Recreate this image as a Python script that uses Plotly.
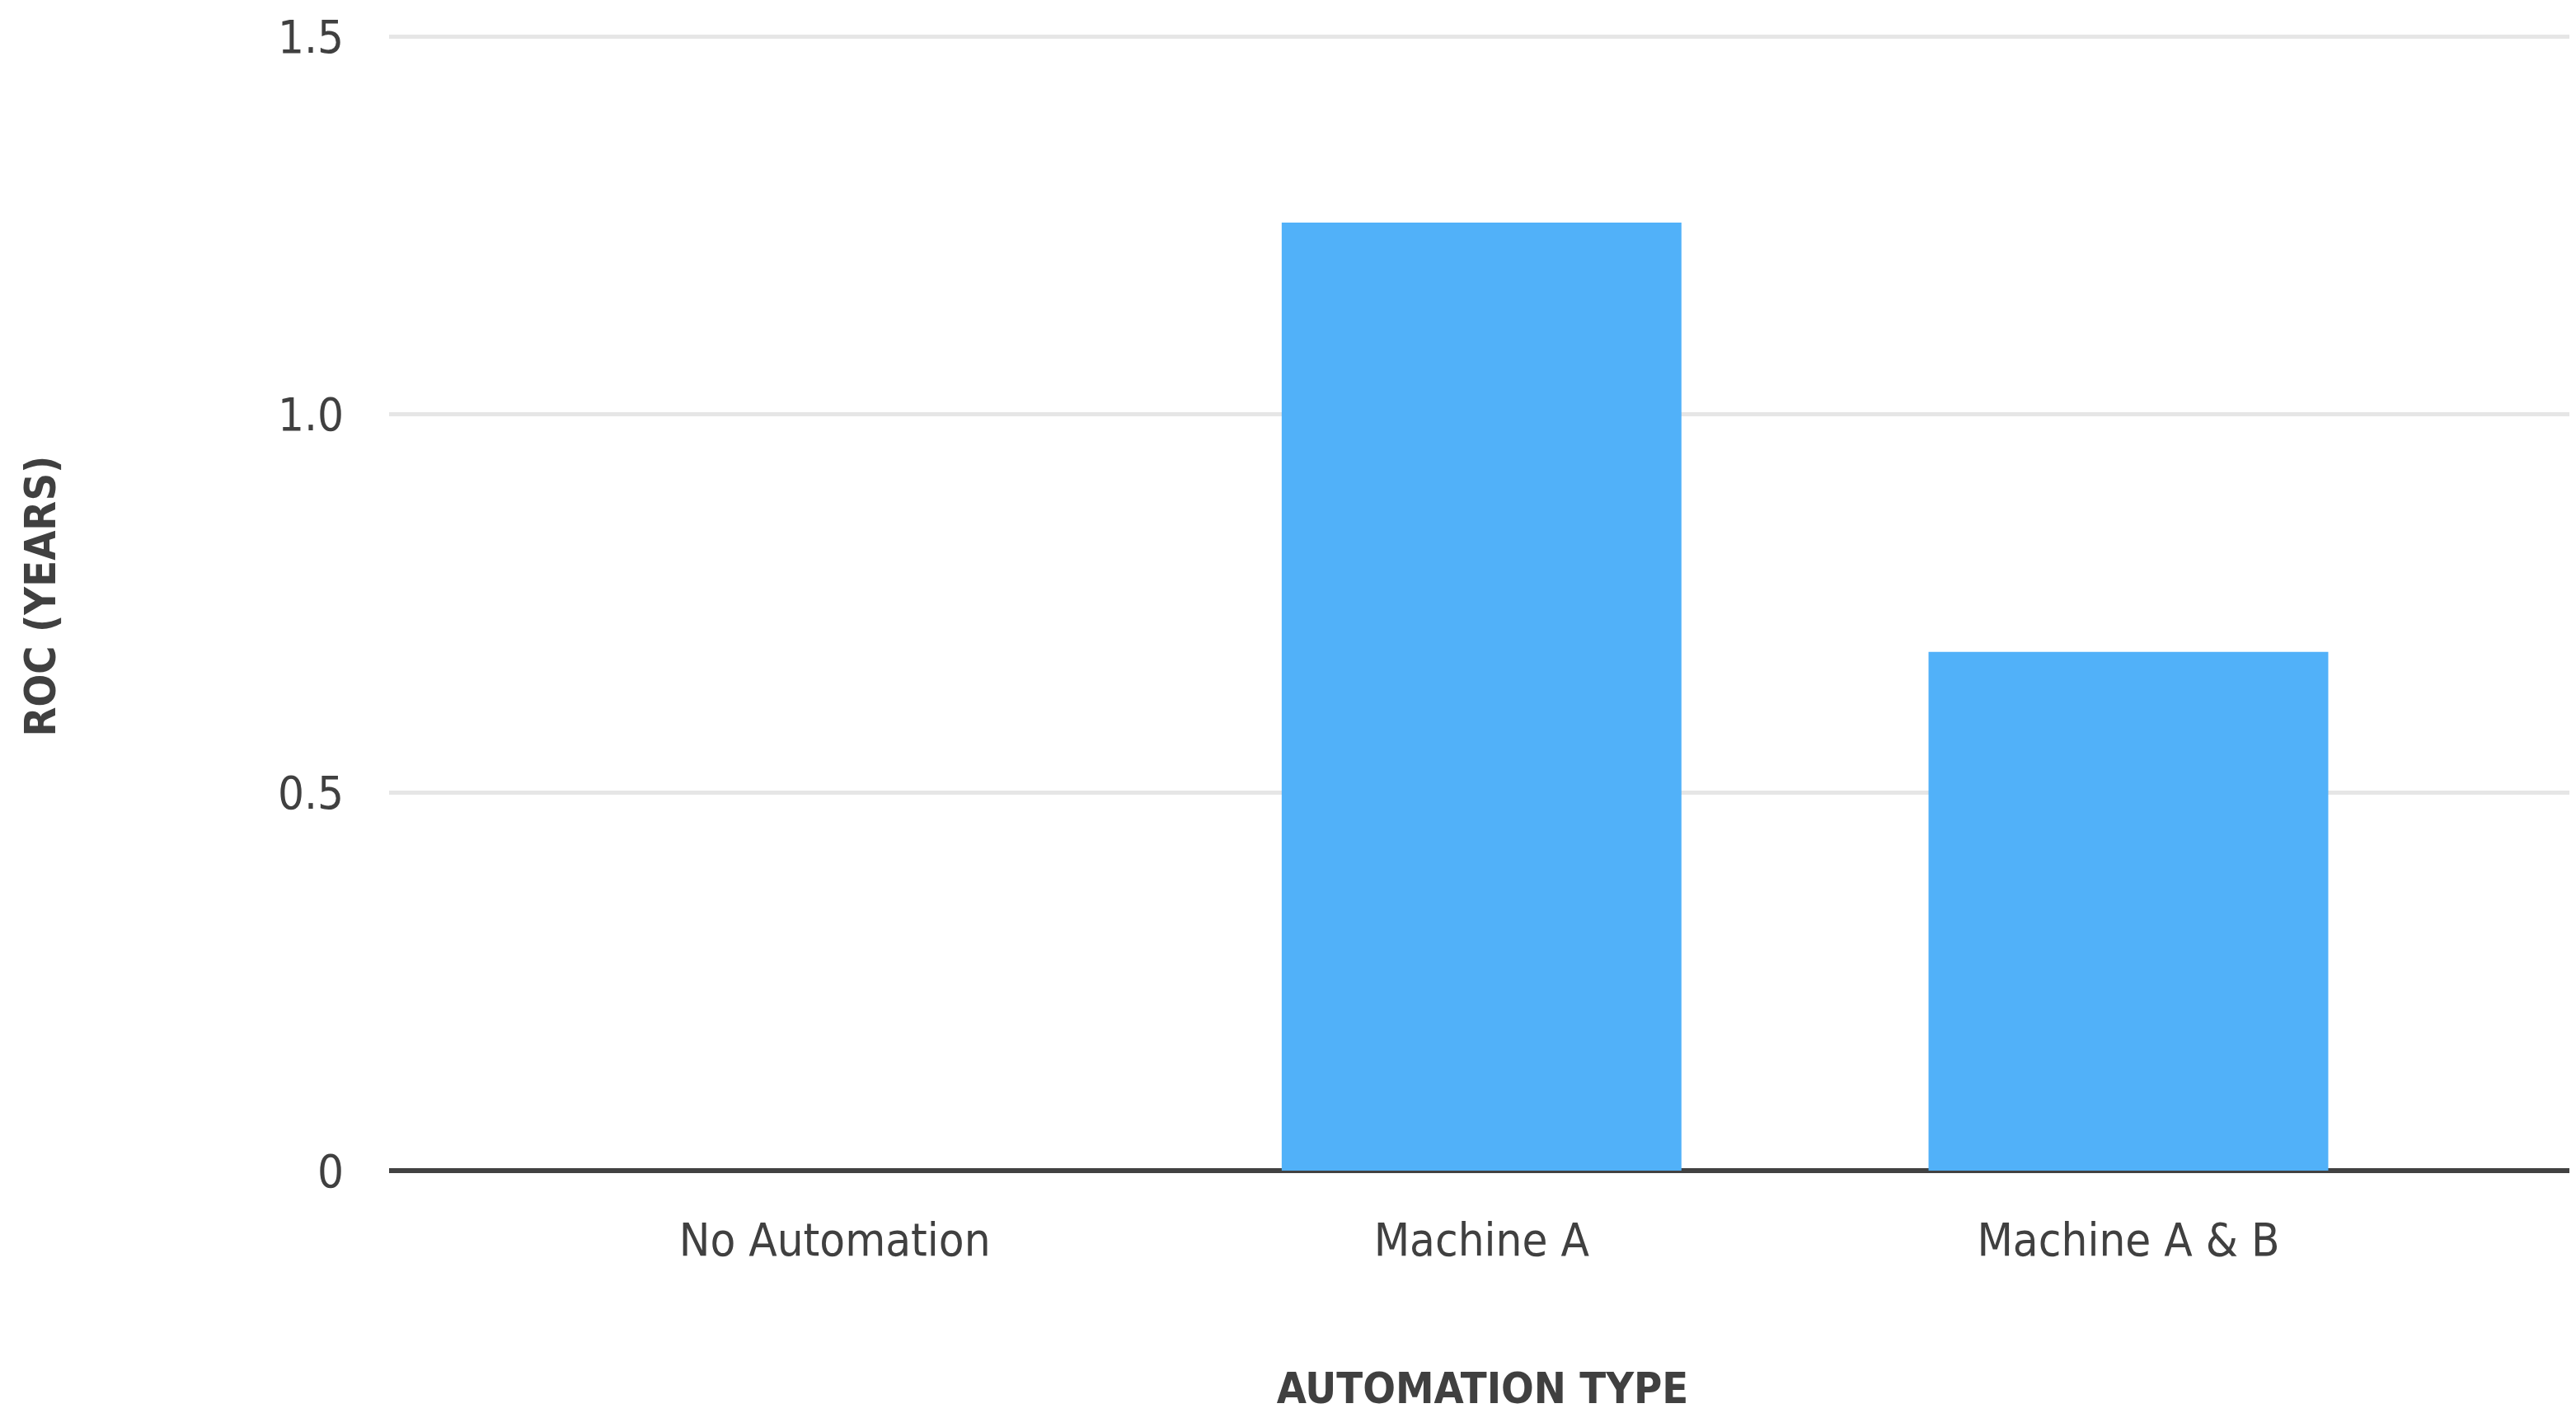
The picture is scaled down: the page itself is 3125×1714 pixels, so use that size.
import plotly.graph_objects as go

# chart data
categories = ["No Automation", "Machine A", "Machine A & B"]
roc_years = [0, 1.254, 0.686]
y_tickvals = [0, 0.5, 1.0, 1.5]
y_ticktext = ["0", "0.5", "1.0", "1.5"]

BAR_COL = "#51B1F9"
TEXT_COL = "#404040"
FONT = "DejaVu Sans Condensed, Liberation Sans Narrow, sans-serif"

fig = go.Figure(go.Bar(
    x=categories,
    y=roc_years,
    width=0.618,
    marker=dict(color=BAR_COL, line=dict(width=0)),
    showlegend=False,
))

# page body has an 8px margin, so the figure is a bit smaller than the window
fig.update_layout(
    width=3117, height=1706,
    margin={'l': 464, 'r': 0, 't': 18, 'b': 294},
    paper_bgcolor="white", plot_bgcolor="white",
    font=dict(family=FONT, color=TEXT_COL, size=56),
)

fig.update_xaxes(
    range=[-0.689, 2.692],
    showgrid=False,
    showline=False,
    ticks="",
    ticklabelstandoff=46,
    tickfont=dict(family=FONT, size=56, color=TEXT_COL),
    title=dict(text="AUTOMATION TYPE", standoff=130,
               font=dict(family=FONT, size=52, color=TEXT_COL, weight="bold")),
)

fig.update_yaxes(
    range=[0, 1.52],
    tickvals=y_tickvals,
    ticktext=y_ticktext,
    showgrid=True, gridcolor="#E6E6E6", gridwidth=5,
    zeroline=True, zerolinecolor="#424242", zerolinewidth=6,
    ticks="",
    ticklabelstandoff=54,
    tickfont=dict(family=FONT, size=56, color=TEXT_COL),
    title=dict(text="ROC (YEARS)", standoff=252,
               font=dict(family=FONT, size=52, color=TEXT_COL, weight="bold")),
)

fig.write_html("out.html")
